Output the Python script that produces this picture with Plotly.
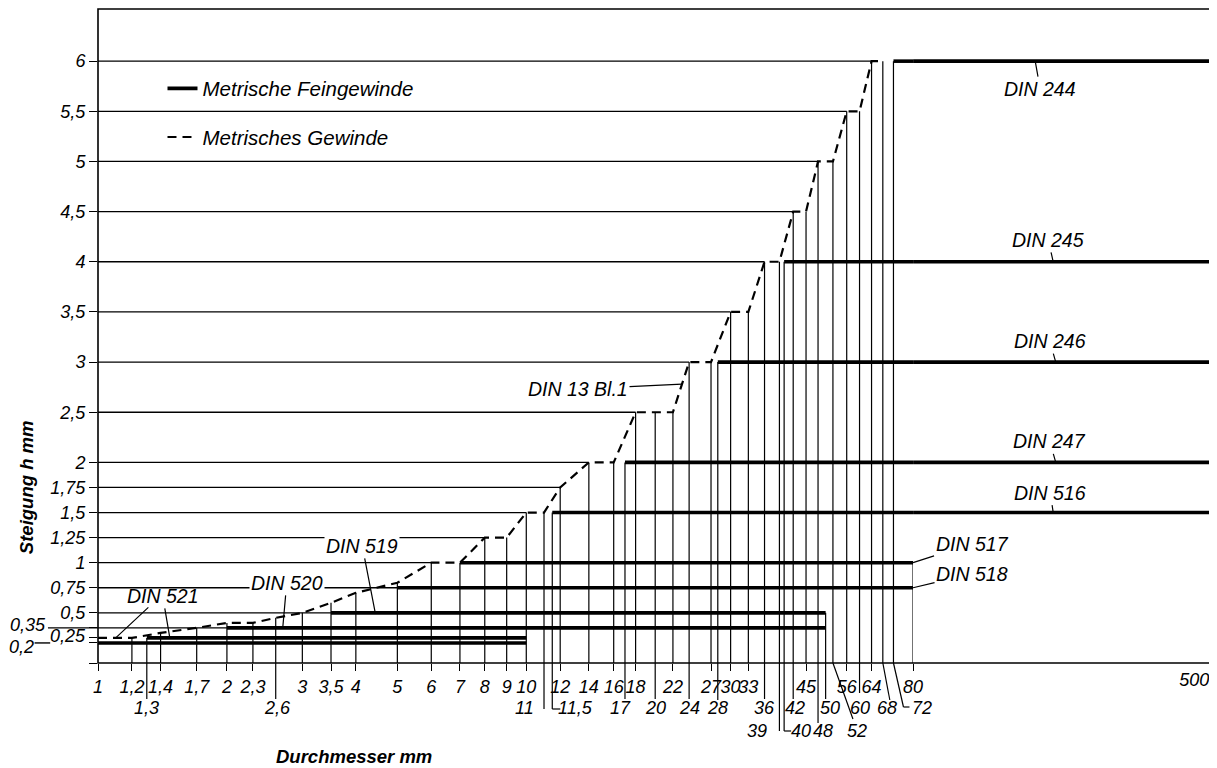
import math
import plotly.graph_objects as go

# ---------------- data ----------------
# Metrisches Gewinde (DIN 13 Bl.1): Durchmesser -> Steigung
coarse_d = [1, 1.2, 1.4, 1.7, 2, 2.3, 2.6, 3, 3.5, 4, 5, 6, 7, 8, 9, 10, 11, 12, 14, 16,
            18, 20, 22, 24, 27, 30, 33, 36, 39, 42, 45, 48, 52, 56, 60, 64, 68]
coarse_p = [0.25, 0.25, 0.3, 0.35, 0.4, 0.4, 0.45, 0.5, 0.6, 0.7, 0.8, 1, 1, 1.25, 1.25, 1.5, 1.5, 1.75, 2, 2,
            2.5, 2.5, 2.5, 3, 3, 3.5, 3.5, 4, 4, 4.5, 4.5, 5, 5, 5.5, 5.5, 6, 6]

# Metrische Feingewinde: Steigung, von Durchmesser, bis Durchmesser
fine_names = ["DIN 521", "DIN 521", "DIN 520", "DIN 519", "DIN 518", "DIN 517",
              "DIN 516", "DIN 247", "DIN 246", "DIN 245", "DIN 244"]
fine_p = [0.2, 0.25, 0.35, 0.5, 0.75, 1, 1.5, 2, 3, 4, 6]
fine_from = [1, 1.3, 2, 3.5, 5, 7, 11.5, 17, 28, 40, 72]
fine_to = [10, 10, 50, 50, 80, 80, 500, 500, 500, 500, 500]

# extra diameters of the fine threads (vertical lines up to the given pitch)
extra_d = [1.3, 11.5, 17, 28, 40, 50, 72, 80]
extra_top = [0.25, 1.5, 2, 3, 4, 0.5, 6, 1]

# thin pitch lines: pitch and diameter where they end
grid_p = [0.35, 0.5, 0.75, 1, 1.25, 1.5, 1.75, 2, 2.5, 3, 3.5, 4, 4.5, 5, 5.5, 6]
grid_end = [2, 3.5, 5, 6, 8, 10, 12, 14, 18, 24, 30, 36, 42, 48, 56, 64]

# x tick labels (three rows)
x_row1 = [1, 1.2, 1.4, 1.7, 2, 2.3, 3, 3.5, 4, 5, 6, 7, 8, 9, 10, 12, 14, 16, 18, 22, 27, 30, 33, 45, 56, 64, 80]
x_row1_text = ["1", "1,2", "1,4", "1,7", "2", "2,3", "3", "3,5", "4", "5", "6", "7", "8", "9", "10",
               "12", "14", "16", "18", "22", "27", "30", "33", "45", "56", "64", "80"]
x_row2 = [1.3, 2.6, 11, 11.5, 17, 20, 24, 28, 36, 42, 50, 60, 68, 72]
x_row2_text = ["1,3", "2,6", "11", "11,5", "17", "20", "24", "28", "36", "42", "50", "60", "68", "72"]
x_row3 = [39, 40, 48, 52]
x_row3_text = ["39", "40", "48", "52"]
x_end = [500]
x_end_text = ["500"]

# y tick labels
y_ticks = [0, 0.2, 0.25, 0.35, 0.5, 0.75, 1, 1.25, 1.5, 1.75, 2, 2.5, 3, 3.5, 4, 4.5, 5, 5.5, 6]
y_tick_text = ["", "", "", "", "0,5", "0,75", "1", "1,25", "1,5", "1,75", "2", "2,5", "3", "3,5",
               "4", "4,5", "5", "5,5", "6"]
y_small = [0.35, 0.25, 0.2]
y_small_text = ["0,35", "0,25", "0,2"]

# ---------------- styles ----------------
FONT = "Liberation Sans, Arial, sans-serif"
BLACK = "black"
X_BREAK = 80
F = 0.733           # share of the width for 1..80
EPS = 1e-4

# leader style for rows 2/3: (end dx, end dy, hook dx, label dx)
row_style = {
    1.3: (0, 36, 0, 0), 2.6: (0, 36, 0, 2), 11: (0, 46, -10, -20), 11.5: (0, 46, 8, 23),
    17: (-3, 36, 0, -4), 20: (0, 36, 0, 0), 24: (0, 36, 0, 0), 28: (0, 37, 0, 0),
    36: (0, 36, 0, 0), 42: (0, 36, 0, 2), 50: (0, 36, 0, 4), 60: (0, 30, 0, 0),
    68: (7, 37, 0, 4), 72: (10, 44, 6, 29),
    39: (0, 68, -7, -22), 40: (0, 68, 7, 17), 48: (0, 60, 0, 5), 52: (20, 56, 0, 24),
}
ROW_Y = {2: 45, 3: 68}


def polyline(segments):
    xs, ys = [], []
    for seg in segments:
        for x, y in seg:
            xs.append(x)
            ys.append(y)
        xs.append(None)
        ys.append(None)
    return xs, ys


fig = go.Figure()

# thin pitch lines
gx, gy = polyline([[(1, p), (e, p)] for p, e in zip(grid_p, grid_end)])
fig.add_trace(go.Scatter(x=gx, y=gy, mode="lines", line=dict(color=BLACK, width=1.3),
                         showlegend=False, hoverinfo="skip"))

# vertical diameter lines
vseg = [[(d, 0), (d, p)] for d, p in zip(coarse_d, coarse_p) if d > 1]
vseg += [[(d, 0), (d, p)] for d, p in zip(extra_d, extra_top)]
vx, vy = polyline(vseg)
fig.add_trace(go.Scatter(x=vx, y=vy, mode="lines", line=dict(color=BLACK, width=1.2),
                         showlegend=False, hoverinfo="skip"))

# fine threads (thick), split at the axis break
seg1, seg2 = [], []
for p, a, b in zip(fine_p, fine_from, fine_to):
    seg1.append([(a, p), (min(b, X_BREAK), p)])
    if b > X_BREAK:
        seg2.append([(X_BREAK, p), (b, p)])
fx1, fy1 = polyline(seg1)
fx2, fy2 = polyline(seg2)
fig.add_trace(go.Scatter(x=fx1, y=fy1, mode="lines", line=dict(color=BLACK, width=3.6),
                         name="Metrische Feingewinde", legendgroup="f", hoverinfo="skip"))
fig.add_trace(go.Scatter(x=fx2, y=fy2, mode="lines", line=dict(color=BLACK, width=3.6),
                         xaxis="x2", showlegend=False, legendgroup="f", hoverinfo="skip"))

# coarse thread (dashed)
fig.add_trace(go.Scatter(x=coarse_d, y=coarse_p, mode="lines",
                         line=dict(color=BLACK, width=2.2, dash="9px,6px"),
                         name="Metrisches Gewinde", legendgroup="c", hoverinfo="skip"))

shapes = []
annotations = []
tfont = dict(family=FONT, size=18, color=BLACK, style="italic")
dfont = dict(family=FONT, size=19.5, color=BLACK, style="italic")
lfont = dict(family=FONT, size=20.5, color=BLACK, style="italic")

# frame
shapes.append(dict(type="rect", xref="paper", yref="paper", x0=0, x1=1, y0=0, y1=1,
                   line=dict(color=BLACK, width=1.6), layer="above"))

# rows 2 and 3 of the x labels with their leaders
for row, vals, texts in [(2, x_row2, x_row2_text), (3, x_row3, x_row3_text)]:
    for d, t in zip(vals, texts):
        ex, ey, hk, ldx = row_style[d]
        shapes.append(dict(type="line", xref="x", yref="paper", xsizemode="pixel", ysizemode="pixel",
                           xanchor=d, yanchor=0, x0=0, y0=0, x1=ex, y1=-ey,
                           line=dict(color=BLACK, width=1.2)))
        if hk:
            shapes.append(dict(type="line", xref="x", yref="paper", xsizemode="pixel", ysizemode="pixel",
                               xanchor=d, yanchor=0, x0=ex, y0=-ey, x1=ex + hk, y1=-ey,
                               line=dict(color=BLACK, width=1.2)))
        annotations.append(dict(x=math.log10(d), xref="x", y=0, yref="paper", text=t,
                                showarrow=False, xshift=ldx, yshift=-ROW_Y[row],
                                xanchor="center", yanchor="middle", font=tfont))

# small y labels with leaders
small_pos = {0.35: (-70, 3), 0.25: (-30, 2), 0.2: (-77, -4)}
for v, t in zip(y_small, y_small_text):
    dx, dy = small_pos[v]
    annotations.append(dict(x=0, xref="paper", y=v, yref="y", text=t, showarrow=False,
                            xshift=dx, yshift=dy, xanchor="center", yanchor="middle", font=tfont))
shapes.append(dict(type="line", xref="paper", yref="y", x0=-0.045, x1=0, y0=0.35, y1=0.35,
                   line=dict(color=BLACK, width=1.2)))
shapes.append(dict(type="line", xref="paper", yref="y", x0=-0.057, x1=-0.043, y0=0.2, y1=0.2,
                   line=dict(color=BLACK, width=1.4)))

# DIN labels with leaders: (text, axis, x, y, ax, ay, white background)
din_labels = [
    ("DIN 244", "x2", 170, 6, 5, 28, False),
    ("DIN 245", "x2", 190, 4, -5, -22, False),
    ("DIN 246", "x2", 193, 3, -6, -21, False),
    ("DIN 247", "x2", 193, 2, -6, -21, False),
    ("DIN 516", "x2", 190, 1.5, -3, -20, False),
    ("DIN 517", "x", 80, 1, 59, -19, False),
    ("DIN 518", "x", 80, 0.75, 59, -14, False),
    ("DIN 519", "x", 4.44, 0.5, -13, -67, True),
    ("DIN 520", "x", 2.7, 0.35, 4, -45, True),
    ("DIN 521", "x", 1.47, 0.26, -7, -41, False),
    ("DIN 13 Bl.1", "x", 23.1, 2.78, -104, 5, False),
]
for t, xr, xv, yv, ax, ay, bg in din_labels:
    annotations.append(dict(x=math.log10(xv), xref=xr, y=yv, yref="y", text=t, showarrow=True,
                            arrowhead=0, arrowwidth=1.2, arrowcolor=BLACK, ax=ax, ay=ay,
                            font=dfont, bgcolor="white" if bg else "rgba(0,0,0,0)", borderpad=1))
# second leader of DIN 521 (invisible copy of the label)
annotations.append(dict(x=math.log10(1.1), xref="x", y=0.25, yref="y", text="DIN 521", showarrow=True,
                        arrowhead=0, arrowwidth=1.2, arrowcolor=BLACK, ax=46, ay=-43,
                        font=dict(family=FONT, size=19.5, color="rgba(0,0,0,0)", style="italic"),
                        borderpad=1))

# axis titles
annotations.append(dict(x=-0.0647, xref="paper", y=0.269, yref="paper", text="Steigung h mm",
                        textangle=-90, showarrow=False, xanchor="center", yanchor="middle",
                        font=dict(family=FONT, size=18.5, color=BLACK, style="italic", weight="bold")))
annotations.append(dict(x=0.230, xref="paper", y=-0.1437, yref="paper", text="Durchmesser mm",
                        showarrow=False, xanchor="center", yanchor="middle",
                        font=dict(family=FONT, size=18.5, color=BLACK, style="italic", weight="bold")))

axis_common = dict(showgrid=False, zeroline=False, showline=False, ticks="outside",
                   tickcolor=BLACK, tickwidth=1.3, automargin=False, fixedrange=True,
                   tickfont=tfont, tickangle=0)

# the page body adds an 8 px offset, so the figure is 8 px smaller on each axis
fig.update_layout(
    width=1209, height=760,
    margin=dict(l=90, r=7, t=1, b=105, autoexpand=False),
    paper_bgcolor="white", plot_bgcolor="white",
    font=tfont,
    showlegend=True,
    legend=dict(x=0.058, y=0.909, xanchor="left", yanchor="top", bgcolor="rgba(0,0,0,0)",
                font=lfont, tracegroupgap=19, traceorder="grouped"),
    xaxis=dict(type="log", range=[0, math.log10(X_BREAK) + EPS], domain=[0, F],
               tickmode="array", tickvals=x_row1, ticktext=x_row1_text, ticklen=7, **axis_common),
    xaxis2=dict(type="log", range=[math.log10(X_BREAK), math.log10(500) + EPS], domain=[F, 1],
                anchor="y", tickmode="array", tickvals=x_end, ticktext=x_end_text, ticklen=7,
                ticklabelposition="outside left", **axis_common),
    yaxis=dict(range=[0, 6.52], tickmode="array", tickvals=y_ticks, ticktext=y_tick_text,
               ticklen=8, **axis_common),
    shapes=shapes,
    annotations=annotations,
)

fig.write_html("out.html")
